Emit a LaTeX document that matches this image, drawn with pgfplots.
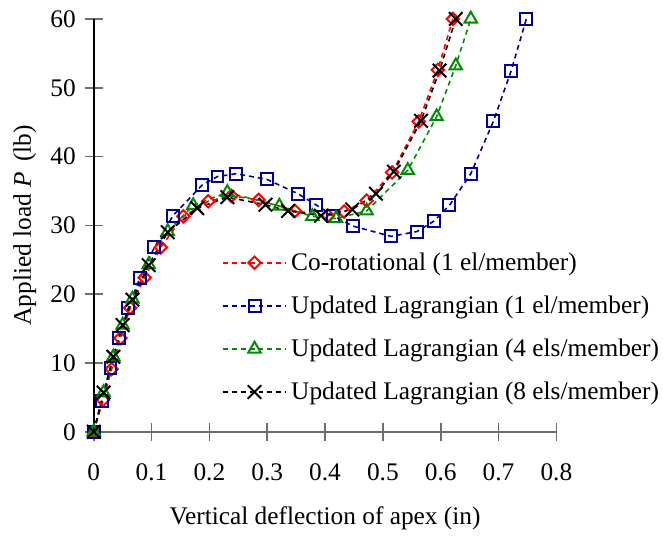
\documentclass[border=0pt]{standalone}
\usepackage{pgfplots}
\pgfplotsset{compat=1.18}
\usepackage{fontspec}
\setmainfont{Liberation Serif}
\definecolor{myblue}{RGB}{0,0,150}
\definecolor{mygreen}{RGB}{0,140,0}
\definecolor{axgray}{RGB}{110,110,110}
\begin{document}
\begin{tikzpicture}
\path (-47pt,-49pt) rectangle (284.5pt,216.5pt);
\begin{axis}[
  at={(0,0)}, anchor=south west,
  scale only axis, width=232pt, height=207pt,
  xmin=0, xmax=0.8, ymin=0, ymax=60,
  xtick={0,0.1,0.2,0.3,0.4,0.5,0.6,0.7,0.8},
  ytick={0,10,20,30,40,50,60},
  axis x line=bottom, axis y line=left,
  axis line style={-},
  x axis line style={axgray, line width=0.8pt},
  y axis line style={black, line width=0.8pt},
  tick align=center, major tick length=9pt,
  tick style={axgray, line width=0.8pt},
  /pgf/number format/assume math mode=true,
  tick label style={font=\fontsize{12.7}{15}\selectfont},
  xticklabel style={anchor=center, yshift=-16pt},
  yticklabel style={anchor=east, xshift=-1pt},
  xlabel={Vertical deflection of apex (in)},
  ylabel={Applied load \textit{P}\, (lb)},
  label style={font=\fontsize{12.7}{15}\selectfont},
  xlabel style={at={(axis description cs:0.5,-0.21)}, anchor=center},
  ylabel style={at={(axis description cs:-0.149,0.5)}, anchor=center},
  legend style={at={(axis description cs:0.276,0.445)}, anchor=north west, draw=none, fill=none,
    font=\fontsize{12.7}{15}\selectfont, row sep=7.3pt, inner sep=0pt},
  legend cell align=left,
  legend image code/.code={\draw[#1, mark repeat=2, mark phase=2] plot coordinates {(0pt,0pt) (16pt,0pt) (32pt,0pt)};},
  every axis plot/.append style={dash pattern=on 2.5pt off 2pt, line width=0.8pt},
]
\addplot[red, mark=square, mark size=2.2pt, mark options={solid, rotate=45, line width=1pt}] coordinates {
(0,0) (0.016,4.6) (0.031,9.1) (0.046,13.6) (0.063,18.0) (0.088,22.4) (0.116,26.8) (0.155,31.3)
(0.198,33.5) (0.238,34.3) (0.285,33.7) (0.348,32.1) (0.405,31.4) (0.433,32.0) (0.472,33.6)
(0.516,37.7) (0.562,45.1) (0.595,52.6) (0.621,60)};
\addlegendentry{Co-rotational (1 el/member)}
\addplot[myblue, mark=square, mark size=3pt, mark options={solid, line width=1pt}] coordinates {
(0,0) (0.014,4.5) (0.029,9.3) (0.043,13.6) (0.060,18.0) (0.080,22.4) (0.105,26.8) (0.137,31.4)
(0.188,35.9) (0.214,37.1) (0.246,37.5) (0.299,36.7) (0.353,34.6) (0.384,33.0) (0.414,31.4)
(0.448,29.9) (0.514,28.4) (0.559,29.1) (0.588,30.6) (0.615,32.9) (0.652,37.5) (0.691,45.1)
(0.722,52.5) (0.748,60)};
\addlegendentry{Updated Lagrangian (1 el/member)}
\addplot[mygreen, mark=triangle, mark size=3.6pt, mark options={solid, line width=1pt}] coordinates {
(0,0) (0.017,5.7) (0.034,10.9) (0.050,15.5) (0.067,19.3) (0.095,24.3) (0.128,29.1) (0.172,32.9)
(0.231,34.8) (0.321,32.8) (0.378,31.3) (0.419,31.0) (0.472,32.1) (0.543,38.0) (0.593,45.8)
(0.626,53.2) (0.652,60)};
\addlegendentry{Updated Lagrangian (4 els/member)}
\addplot[black, mark=x, mark size=4.8pt, mark options={solid, line width=1pt}] coordinates {
(0,0) (0.017,5.7) (0.034,10.9) (0.050,15.5) (0.067,19.2) (0.095,24.2) (0.128,29.0) (0.179,32.5)
(0.231,34.1) (0.297,33.0) (0.336,32.1) (0.393,31.4) (0.447,32.3) (0.488,34.6) (0.519,37.8)
(0.566,45.2) (0.598,52.5) (0.626,60)};
\addlegendentry{Updated Lagrangian (8 els/member)}
\end{axis}
\end{tikzpicture}
\end{document}
